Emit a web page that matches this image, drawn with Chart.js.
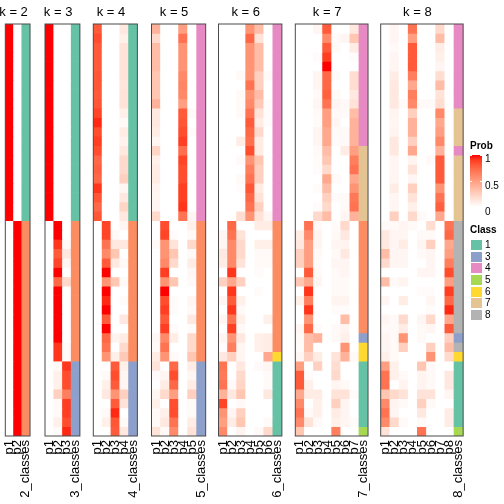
<!DOCTYPE html>
<html><head><meta charset="utf-8">
<script src="https://cdn.jsdelivr.net/npm/chart.js@4/dist/chart.umd.min.js"></script>
<style>
html,body{margin:0;padding:0;background:#fff;}
#wrap{position:relative;width:504px;height:504px;overflow:hidden;background:#fff;font-family:"Liberation Sans",Arial,sans-serif;}
#wrap canvas{position:absolute;top:0;}
.lg{position:absolute;font-size:10px;line-height:10px;color:#000;white-space:nowrap;}
.lgt{font-weight:bold;}
.box{position:absolute;width:11px;height:10px;}
</style></head><body><div id="wrap"></div>
<script>
// ---------------- data ----------------
const kValues = [2,3,4,5,6,7,8];
const classColors = {1:'#66C2A5',2:'#FC8D62',3:'#8DA0CB',4:'#E78AC3',5:'#A6D854',6:'#FFD92F',7:'#E5C494',8:'#B3B3B3'};
const legendClasses = [1,3,4,5,6,7,8];
const probTicks = ['1','0.5','0'];

const labels_k2 = ['p1','p2','2_classes'];
const labels_k3 = ['p1','p2','p3','3_classes'];
const labels_k4 = ['p1','p2','p3','p4','4_classes'];
const labels_k5 = ['p1','p2','p3','p4','p5','5_classes'];
const labels_k6 = ['p1','p2','p3','p4','p5','p6','6_classes'];
const labels_k7 = ['p1','p2','p3','p4','p5','p6','p7','7_classes'];
const labels_k8 = ['p1','p2','p3','p4','p5','p6','p7','p8','8_classes'];

const class_k2 = [1,1,1,1,1,1,1,1,1,1,1,1,1,1,1,1,1,1,1,1,1,
  2,2,2,2,2,2,2,2,2,2,2,2,2,2,2,2,2,2,2,2,2,2,2];
const class_k3 = [1,1,1,1,1,1,1,1,1,1,1,1,1,1,1,1,1,1,1,1,1,
  2,2,2,2,2,2,2,2,2,2,2,2,2,2,2, 3,3,3,3,3,3,3,3];
const class_k4 = [1,1,1,1,1,1,1,1,1,1,1,1,1,1,1,1,1,1,1,1,1,
  2,2,2,2,2,2,2,2,2,2,2,2,2,2,2, 3,3,3,3,3,3,3,3];
const class_k5 = [4,4,4,4,4,4,4,4,4,4,4,4,4,4,4,4,4,4,4,4,4,
  2,2,2,2,2,2,2,2,2,2,2,2,2,2,2, 3,3,3,3,3,3,3,3];
const class_k6 = [4,4,4,4,4,4,4,4,4,4,4,4,4,4,4,4,4,4,4,4,4,
  2,2,2,2,2,2,2,2,2,2,2,2,2,2, 6, 1,1,1,1,1,1,1,1];
const class_k7 = [4,4,4,4,4,4,4,4,4,4,4,4,4, 7,7,7,7,7,7,7,7,
  2,2,2,2,2,2,2,2,2,2,2,2, 3, 6,6, 1,1,1,1,1,1,1, 5];
const class_k8 = [4,4,4,4,4,4,4,4,4, 7,7,7,7, 4, 7,7,7,7,7,7,7,
  8,8,8,8,8,8,8,8,8,8,8,8, 3, 8, 6, 1,1,1,1,1,1,1, 5];

const prob_k2 = [
 [1,0],[1,0],[1,0],[1,0],[1,0],[1,0],[1,0],[1,0],[1,0],[1,0],[1,0],
 [1,0],[1,0],[1,0],[1,0],[1,0],[1,0],[1,0],[1,0],[1,0],[1,0],
 [0,1],[0,1],[0,1],[0,1],[0,1],[0,1],[0,1],[0,1],[0,1],[0,1],[0,1],[0,1],
 [0,1],[0,1],[0,1],[0,1],[0,1],[0,1],[0,1],[0,1],[0,1],[0,1],[0,1]];

const prob_k3 = [
 [1,0,0],[1,0,0],[1,0,0],[1,0,0],[1,0,0],[1,0,0],[1,0,0],[1,0,0],[1,0,0],[1,0,0],[1,0,0],
 [1,0,0],[1,0,0],[1,0,0],[1,0,0],[1,0,0],[1,0,0],[1,0,0],[1,0,0],[1,0,0],[1,0,0],
 [0,1,0],[0,1,0],[0,0.92,0.03],[0,0.8,0.12],[0,0.88,0.05],[0,1,0],[0,0.75,0.2],
 [0,1,0],[0,1,0],[0,1,0],[0,1,0],[0,1,0],[0,1,0],[0,0.92,0.02],[0,0.92,0.02],
 [0,0.03,0.92],[0,0.08,0.85],[0,0.08,0.85],[0,0.25,0.65],[0,0.03,0.9],[0,0.03,0.9],[0,0.08,0.85],[0,0.02,0.95]];

const prob_k4 = [
 [0.8,0,0,0.12],[0.85,0,0,0.08],[0.8,0,0,0.15],[0.8,0,0,0.15],[0.8,0,0,0.15],[0.82,0,0,0.15],
 [0.82,0,0,0.13],[0.8,0,0,0.15],[0.82,0,0,0.15],[0.88,0,0,0.08],[0.95,0,0,0.03],[0.85,0,0,0.1],
 [0.9,0,0,0.07],[0.85,0,0,0.12],[0.75,0,0,0.2],[0.78,0,0,0.2],[0.75,0,0,0.25],[0.92,0,0,0.05],
 [0.82,0,0,0.12],[0.75,0,0,0.22],[0.82,0,0,0.12],
 [0,0.88,0,0.05],[0,0.88,0.03,0],[0,0.7,0.12,0.12],[0,0.6,0.3,0],[0,0.8,0.12,0.03],[0,1,0,0],
 [0,0.55,0.3,0.03],[0,1,0,0],[0,0.95,0,0.02],[0,1,0,0],[0,0.8,0,0.12],[0,1,0,0],
 [0,0.75,0.06,0.1],[0,0.7,0,0.2],[0,0.55,0.08,0.28],
 [0,0,0.8,0.08],[0,0.03,0.85,0.05],[0,0.08,0.8,0.05],[0,0.12,0.55,0.25],[0,0,0.8,0.15],
 [0,0.03,0.95,0],[0,0.08,0.82,0.03],[0,0,0.8,0.12]];

const prob_k5 = [
 [0.4,0,0,0.5,0],[0.2,0,0,0.7,0],[0.35,0,0,0.55,0],[0.35,0,0,0.55,0],[0.35,0,0,0.55,0],
 [0.3,0,0,0.6,0],[0.3,0,0,0.62,0],[0.3,0,0,0.6,0],[0.4,0,0,0.5,0],[0.12,0,0,0.8,0.03],
 [0.12,0,0,0.82,0],[0.1,0,0,0.85,0.02],[0.05,0,0,0.9,0],[0.22,0,0,0.72,0],[0.08,0,0,0.88,0],
 [0.1,0,0,0.85,0],[0.1,0,0,0.85,0],[0.06,0,0,0.9,0],[0.05,0,0,0.9,0],[0.05,0,0,0.92,0],
 [0.2,0,0,0.7,0.05],
 [0,0.85,0,0,0.08],[0,0.88,0.02,0,0.03],[0.03,0.55,0.15,0,0.2],[0,0.55,0.3,0,0.03],
 [0,0.6,0.2,0,0.1],[0,0.9,0,0,0.04],[0,0.55,0.3,0,0.03],[0,1,0,0,0],[0,0.85,0.02,0,0.05],
 [0,0.9,0.02,0,0.03],[0,0.8,0,0,0.12],[0,0.9,0.02,0,0.02],[0.04,0.6,0.1,0,0.2],
 [0.03,0.7,0,0,0.2],[0.1,0.55,0.03,0,0.3],
 [0.15,0,0.75,0,0.1],[0.02,0.05,0.85,0,0.05],[0,0.1,0.75,0,0.1],[0.05,0.2,0.5,0,0.25],
 [0.08,0,0.85,0,0.03],[0.03,0.08,0.85,0,0.03],[0.03,0.12,0.7,0,0.1],[0.15,0.03,0.6,0,0.15]];

const prob_k6 = [
 [0,0,0,0.55,0.35,0],[0,0,0,0.75,0.15,0],[0,0,0,0.55,0.35,0],[0,0,0,0.55,0.35,0],
 [0,0,0,0.55,0.35,0],[0,0,0.03,0.55,0.25,0.03],[0,0,0,0.7,0.25,0],[0,0,0.03,0.55,0.35,0],
 [0,0,0.03,0.6,0.28,0.02],[0,0,0.03,0.7,0.15,0.02],[0,0,0,0.8,0.1,0.02],[0,0,0,0.75,0.2,0],
 [0,0,0.1,0.72,0.1,0],[0,0,0,0.85,0.1,0],[0,0,0.03,0.55,0.3,0],[0,0,0,0.65,0.25,0],
 [0,0,0.03,0.7,0.25,0],[0,0,0.02,0.82,0.1,0],[0,0,0,0.75,0.15,0],[0,0,0,0.7,0.25,0],
 [0,0,0.18,0.55,0.15,0.05],
 [0,0.75,0,0,0.1,0.1],[0.05,0.7,0.15,0,0,0],[0.05,0.6,0.2,0,0.08,0.08],[0.12,0.6,0.2,0,0.03,0.03],
 [0.1,0.6,0.15,0,0.03,0.03],[0,0.92,0,0,0.02,0],[0.25,0.45,0.25,0,0,0],[0,0.92,0,0,0.02,0],
 [0.05,0.8,0.08,0,0,0],[0,0.92,0.03,0,0,0],[0.05,0.7,0.08,0,0,0.08],[0,0.9,0.03,0,0,0],
 [0.05,0.55,0.12,0,0.08,0.1],[0.02,0.65,0.05,0,0.08,0.1],
 [0.12,0.25,0.05,0,0,0.45],
 [0.7,0,0.12,0,0.03,0.05],[0.68,0,0.2,0,0,0.03],[0.7,0.03,0.22,0,0,0.03],[0.4,0.12,0.3,0,0,0.12],
 [0.88,0,0.03,0,0,0],[0.55,0.05,0.25,0,0,0],[0.5,0.1,0.3,0,0,0.03],[0.6,0,0.06,0,0.03,0.2]];

const prob_k7 = [
 [0,0,0.05,0.8,0,0,0.12],[0,0,0,0.6,0.03,0.05,0.3],[0,0,0,0.8,0.03,0,0.1],[0,0,0.02,0.9,0,0,0.02],
 [0,0,0,1,0,0,0],[0,0,0.05,0.75,0.03,0,0.18],[0,0,0.05,0.75,0,0,0.18],[0,0,0.03,0.78,0.03,0,0.12],
 [0,0,0.05,0.7,0.05,0.03,0.15],[0,0,0.03,0.5,0.03,0.03,0.35],[0,0,0.02,0.5,0.05,0,0.4],
 [0,0,0.05,0.45,0.03,0.03,0.4],[0,0,0.05,0.45,0.02,0.03,0.4],
 [0,0,0.03,0.35,0,0.1,0.5],[0,0,0.02,0.3,0,0,0.65],[0,0,0.02,0.2,0,0,0.7],[0,0,0,0.45,0.03,0,0.45],
 [0,0,0.02,0.35,0,0,0.55],[0,0,0,0.25,0.02,0.03,0.68],[0,0,0.02,0.2,0,0.03,0.7],[0,0,0.2,0.35,0,0.05,0.4],
 [0,0.7,0.03,0,0.02,0.2,0],[0.1,0.6,0.06,0,0.03,0.12,0],[0.12,0.5,0.06,0,0.05,0.06,0],
 [0.25,0.5,0.03,0,0.03,0.12,0],[0.25,0.5,0.02,0,0.05,0.05,0],[0,0.8,0.03,0,0.03,0.05,0],
 [0.3,0.45,0.05,0,0.03,0.03,0],[0,0.92,0,0,0.03,0.03,0],[0.08,0.65,0,0,0.06,0.06,0],
 [0,0.92,0,0,0.02,0.02,0],[0,0.55,0,0,0,0.35,0],[0.05,0.75,0.02,0,0.03,0.06,0],
 [0.03,0.35,0.4,0,0.03,0.08,0],
 [0.02,0.35,0,0,0,0.55,0],[0.05,0.25,0.1,0,0.15,0.4,0.03],
 [0.5,0,0.25,0,0.18,0,0],[0.8,0.02,0,0,0.2,0,0],[0.8,0.08,0,0,0.05,0.03,0],
 [0.45,0.1,0.1,0,0.15,0.15,0.02],[0.6,0,0.08,0,0.25,0.05,0],[0.7,0.03,0.08,0,0.1,0.05,0],
 [0.6,0.15,0.03,0,0.08,0.05,0.02],
 [0.3,0,0,0,0.65,0,0]];

const prob_k8 = [
 [0,0.05,0,0.7,0,0,0.2,0],[0,0.05,0,0.5,0,0,0.35,0],[0,0.03,0,0.8,0,0,0.1,0],[0,0.05,0,0.8,0,0,0.08,0],
 [0,0.05,0,0.8,0,0,0.05,0],[0,0.1,0,0.65,0,0,0.18,0],[0,0.12,0,0.45,0,0,0.35,0],[0,0.12,0,0.65,0,0,0.15,0],
 [0,0.12,0.03,0.6,0.03,0.03,0.18,0],
 [0,0.06,0,0.25,0,0,0.6,0],[0,0.05,0,0.4,0,0,0.45,0],[0,0.06,0,0.4,0,0,0.5,0],[0,0.12,0,0.25,0,0,0.6,0],
 [0,0.12,0,0.45,0,0,0.4,0],
 [0,0.05,0,0.06,0,0.03,0.8,0],[0,0.05,0,0.15,0,0,0.8,0],[0,0.05,0,0.05,0,0,0.8,0],[0,0.1,0,0.25,0,0,0.55,0],
 [0,0.05,0,0.15,0,0,0.7,0],[0,0.05,0,0.08,0,0,0.78,0],[0,0.25,0,0.2,0.03,0,0.45,0],
 [0.03,0.03,0.05,0.03,0,0.18,0,0.7],[0.12,0.05,0.05,0,0.03,0.03,0,0.75],[0.12,0.05,0.1,0,0.05,0.25,0,0.45],
 [0.35,0.05,0.05,0,0.03,0.05,0,0.5],[0.2,0.05,0.05,0,0,0.05,0,0.65],[0,0,0,0,0.05,0.05,0,0.85],
 [0.35,0.03,0.06,0,0,0,0,0.5],[0,0,0,0,0.02,0.02,0,0.9],[0.05,0,0.1,0,0,0.05,0,0.75],
 [0,0,0,0,0,0.02,0,0.95],[0.05,0.03,0.2,0,0.05,0.2,0,0.45],[0.03,0.03,0.1,0,0.03,0.05,0,0.8],
 [0.05,0.03,0.55,0,0.03,0,0,0.25],[0.05,0.03,0.25,0,0,0.25,0,0.35],[0.08,0.03,0,0,0,0.55,0,0.2],
 [0.5,0.08,0,0,0.3,0.03,0,0],[0.7,0.08,0.03,0,0.06,0.03,0,0.12],[0.7,0,0.06,0,0.06,0.03,0,0.12],
 [0.3,0.2,0.15,0,0.15,0.15,0,0.05],[0.6,0.06,0.03,0,0.25,0.03,0,0],[0.7,0.05,0,0,0.12,0,0,0.1],
 [0.6,0.2,0.03,0,0.03,0,0,0.1],
 [0.15,0,0,0,0.7,0,0,0]];

const panels = [
 {k:2, labels:labels_k2, prob:prob_k2, cls:class_k2},
 {k:3, labels:labels_k3, prob:prob_k3, cls:class_k3},
 {k:4, labels:labels_k4, prob:prob_k4, cls:class_k4},
 {k:5, labels:labels_k5, prob:prob_k5, cls:class_k5},
 {k:6, labels:labels_k6, prob:prob_k6, cls:class_k6},
 {k:7, labels:labels_k7, prob:prob_k7, cls:class_k7},
 {k:8, labels:labels_k8, prob:prob_k8, cls:class_k8}
];

// ---------------- layout (px) ----------------
const panelLeft = [5.3, 45, 93.3, 151.5, 218.5, 295.3, 380.7];
const colW = 9.27;
const plotTop = 24, plotBottom = 436, pageH = 504;
const FONT = '"Liberation Sans", Arial, Helvetica, sans-serif';

// ---------------- colour: white -> red in LAB ----------------
function s2l(c){c/=255;return c<=0.04045?c/12.92:Math.pow((c+0.055)/1.055,2.4);}
function l2s(c){const v=c<=0.0031308?12.92*c:1.055*Math.pow(c,1/2.4)-0.055;return Math.round(Math.max(0,Math.min(1,v))*255);}
function rgb2lab(rgb){const R=s2l(rgb[0]),G=s2l(rgb[1]),B=s2l(rgb[2]);
 const X=(0.4124564*R+0.3575761*G+0.1804375*B)/0.95047,Y=0.2126729*R+0.7151522*G+0.0721750*B,Z=(0.0193339*R+0.1191920*G+0.9503041*B)/1.08883;
 const f=t=>t>0.008856?Math.cbrt(t):(7.787*t+16/116);const fx=f(X),fy=f(Y),fz=f(Z);
 return [116*fy-16,500*(fx-fy),200*(fy-fz)];}
function lab2rgb(lab){const fy=(lab[0]+16)/116,fx=fy+lab[1]/500,fz=fy-lab[2]/200;
 const inv=t=>{const t3=t*t*t;return t3>0.008856?t3:(t-16/116)/7.787;};
 const X=inv(fx)*0.95047,Y=inv(fy),Z=inv(fz)*1.08883;
 return [l2s(3.2404542*X-1.5371385*Y-0.4985314*Z),l2s(-0.9692660*X+1.8760108*Y+0.0415560*Z),l2s(0.0556434*X-0.2040259*Y+1.0572252*Z)];}
const LAB0 = rgb2lab([255,255,255]), LAB1 = rgb2lab([255,0,0]);
function probColor(p){const t=Math.max(0,Math.min(1,p));
 const c=lab2rgb([LAB0[0]+(LAB1[0]-LAB0[0])*t,LAB0[1]+(LAB1[1]-LAB0[1])*t,LAB0[2]+(LAB1[2]-LAB0[2])*t]);
 return 'rgb('+c[0]+','+c[1]+','+c[2]+')';}

// ---------------- charts ----------------
const wrap = document.getElementById('wrap');
const MARGIN = 14;

const panelPlugin = {
  id:'panelDeco',
  afterDraw(chart, args, opts){
    const ctx = chart.ctx, a = chart.chartArea;
    ctx.save();
    ctx.strokeStyle = '#4a4a4a';
    ctx.lineWidth = 1;
    ctx.strokeRect(a.left, a.top, a.right - a.left, a.bottom - a.top);
    const k = opts.k;
    const cw = (a.right - a.left) / (k + 1);
    ctx.fillStyle = '#000';
    ctx.font = '13px ' + FONT;
    ctx.textAlign = 'center';
    ctx.textBaseline = 'alphabetic';
    ctx.fillText('k = ' + k, a.left + cw * k / 2, 16);
    ctx.restore();
  }
};

panels.forEach((pn, i) => {
  const k = pn.k;
  const W = colW * (k + 1);
  const L = panelLeft[i];
  const cLeft = Math.floor(L) - MARGIN;
  const padLeft = L - cLeft;
  const cWidth = Math.ceil(padLeft + W + MARGIN);
  const padRight = cWidth - padLeft - W;
  const cv = document.createElement('canvas');
  cv.width = cWidth; cv.height = pageH;
  cv.style.left = cLeft + 'px';
  cv.style.width = cWidth + 'px'; cv.style.height = pageH + 'px';
  wrap.appendChild(cv);

  const datasets = pn.prob.map((row, r) => ({
    data: pn.labels.map(() => [r, r + 1]),
    backgroundColor: pn.labels.map((_, c) => c < k ? probColor(row[c]) : classColors[pn.cls[r]]),
    borderWidth: 0,
    barPercentage: 1,
    categoryPercentage: 1,
    grouped: false
  }));

  new Chart(cv, {
    type: 'bar',
    data: { labels: pn.labels, datasets },
    options: {
      responsive: false,
      animation: false,
      devicePixelRatio: 1,
      events: [],
      layout: { padding: { left: padLeft, right: padRight, top: plotTop, bottom: 0 } },
      plugins: { legend: { display: false }, tooltip: { enabled: false }, title: { display: false }, panelDeco: { k } },
      scales: {
        y: { type: 'linear', min: 0, max: pn.prob.length, reverse: true, display: false },
        x: {
          type: 'category', offset: true,
          grid: { display: false, drawTicks: false },
          border: { display: false },
          ticks: { autoSkip: false, minRotation: 90, maxRotation: 90, padding: 4, color: '#000',
                   font: { size: 13, family: FONT } },
          afterFit: (s) => { s.height = pageH - plotBottom; }
        }
      }
    },
    plugins: [panelPlugin]
  });
});

// ---------------- legends (HTML text) ----------------
function addDiv(cls, text, x, y, extra){const d=document.createElement('div');d.className=cls;if(text!==null)d.textContent=text;d.style.left=x+'px';d.style.top=y+'px';if(extra)Object.assign(d.style,extra);wrap.appendChild(d);return d;}
addDiv('lg lgt','Prob',470,141);
const stops=[];for(let s=0;s<=10;s++){stops.push(probColor(1-s/10)+' '+(s*10)+'%');}
addDiv('box',null,470,155,{width:12+'px',height:52+'px',background:'linear-gradient(to bottom,'+stops.join(',')+')'});
// white tick marks on the bar
[155.5,181,206.5].forEach(y=>{addDiv('box',null,470,y-0.5,{width:'2px',height:'1px',background:'#fff'});addDiv('box',null,480,y-0.5,{width:'2px',height:'1px',background:'#fff'});});
const probTickY=[158.5,185.5,212];
probTicks.forEach((t,j)=>addDiv('lg',t,485,probTickY[j]-5));
addDiv('lg lgt','Class',470,225);
legendClasses.forEach((c,j)=>{const y=240+j*11.67;addDiv('box',null,470.7,y,{background:classColors[c]});addDiv('lg',String(c),485,y);});
</script></body></html>
